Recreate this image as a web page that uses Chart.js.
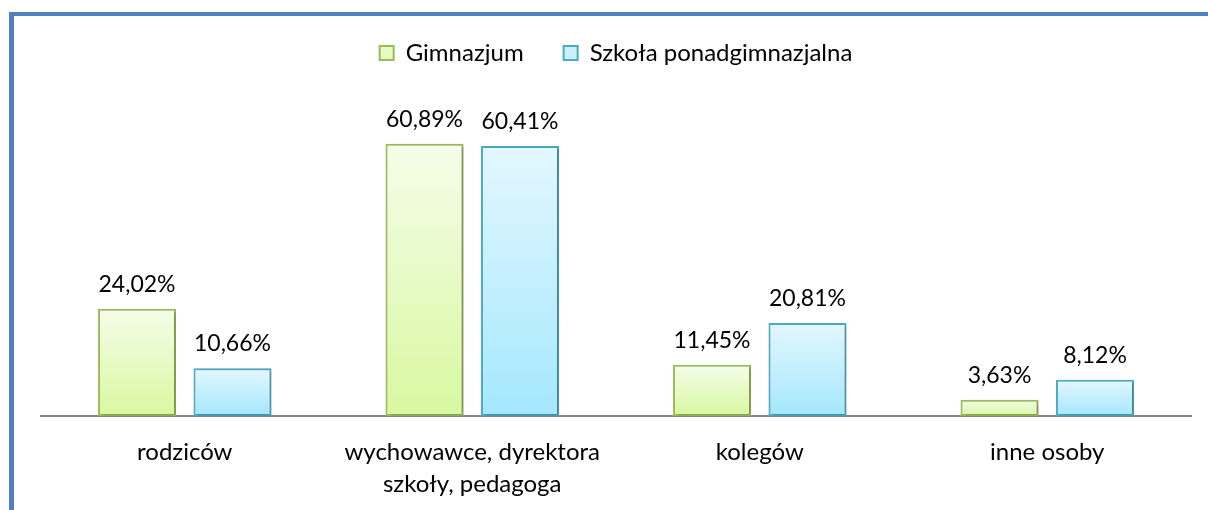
<!DOCTYPE html>
<html>
<head>
<meta charset="utf-8">
<script src="https://cdn.jsdelivr.net/npm/chart.js@4"></script>
<style>
  html, body { margin: 0; padding: 0; background: #fff; }
  #wrap { width: 1208px; height: 510px; }
</style>
</head>
<body>
<div id="wrap"><canvas id="chart" width="1208" height="510"></canvas></div>
<script>
// chart data
const categories = ['rodziców', ['wychowawce, dyrektora', 'szkoły, pedagoga'], 'kolegów', 'inne osoby']
const seriesNames = ['Gimnazjum', 'Szkoła ponadgimnazjalna']
const gimnazjum = [24.02, 60.89, 11.45, 3.63]
const ponadgimnazjalna = [10.66, 60.41, 20.81, 8.12]

const FONT = 'Lato'

//gradient per bar, from top of the bar to the axis
function barGradient(top, bottom) {
    return function(ctx) {
        const chart = ctx.chart
        const y = chart.scales.y
        if (!y || ctx.raw === undefined) return bottom
        const y0 = y.getPixelForValue(ctx.raw)
        const y1 = y.getPixelForValue(0)
        if (!isFinite(y0) || !isFinite(y1) || y0 === y1) return bottom
        const g = chart.ctx.createLinearGradient(0, y0, 0, y1)
        g.addColorStop(0, top)
        g.addColorStop(1, bottom)
        return g
    }
}

//blue frame on the left and top
const framePlugin = {
    id: 'frame',
    beforeDraw(chart) {
        const c = chart.ctx
        c.save()
        c.fillStyle = '#4F81BD'
        c.fillRect(9, 12, 5, chart.height - 12)
        c.fillRect(9, 12, chart.width - 9, 4)
        c.restore()
    }
}

//soft shadow under the bars
const shadowPlugin = {
    id: 'barShadow',
    beforeDatasetDraw(chart) {
        const c = chart.ctx
        c.save()
        c.shadowColor = 'rgba(0,0,0,0.28)'
        c.shadowOffsetX = 2
        c.shadowOffsetY = 1
        c.shadowBlur = 3
    },
    afterDatasetDraw(chart) {
        chart.ctx.restore()
    }
}

//value labels above the bars
const valueLabels = {
    id: 'valueLabels',
    afterDatasetsDraw(chart) {
        const c = chart.ctx
        c.save()
        c.font = '23px ' + FONT
        c.fillStyle = '#000'
        c.textAlign = 'center'
        c.textBaseline = 'alphabetic'
        chart.data.datasets.forEach((ds, i) => {
            chart.getDatasetMeta(i).data.forEach((bar, j) => {
                const txt = ds.data[j].toFixed(2).replace('.', ',') + '%'
                c.fillText(txt, bar.x, bar.y - 17)
            })
        })
        c.restore()
    }
}

new Chart(document.getElementById('chart').getContext('2d'), {
    type: 'bar',
    data: {
        labels: categories,
        datasets: [
            {
                label: seriesNames[0],
                data: gimnazjum,
                backgroundColor: barGradient('#F4FDE9', '#D8F8A0'),
                borderColor: '#9BBB59',
                borderWidth: 2,
                borderSkipped: false,
                categoryPercentage: 0.664,
                barPercentage: 0.817
            },
            {
                label: seriesNames[1],
                data: ponadgimnazjalna,
                backgroundColor: barGradient('#E3F7FE', '#A4E7FD'),
                borderColor: '#4BACC6',
                borderWidth: 2,
                borderSkipped: false,
                categoryPercentage: 0.664,
                barPercentage: 0.817
            }
        ]
    },
    options: {
        responsive: false,
        animation: false,
        layout: { padding: { left: 41, right: 17, top: 1, bottom: 0 } },
        plugins: {
            legend: {
                position: 'top',
                labels: {
                    font: { family: FONT, size: 24 },
                    color: '#000',
                    boxWidth: 14,
                    boxHeight: 14,
                    padding: 40,
                    generateLabels(chart) {
                        return chart.data.datasets.map((ds, i) => ({
                            text: ds.label,
                            fillStyle: i === 0 ? '#E6FAC4' : '#C8F0FD',
                            strokeStyle: ds.borderColor,
                            lineWidth: 2,
                            datasetIndex: i
                        }))
                    }
                }
            },
            tooltip: { enabled: false }
        },
        scales: {
            x: {
                grid: { display: false },
                border: { display: true, color: '#868686', width: 2 },
                ticks: {
                    font: { family: FONT, size: 24, lineHeight: 1.35 },
                    color: '#000',
                    padding: 12,
                    maxRotation: 0,
                    autoSkip: false
                },
                afterFit(s) { s.height = 94 }
            },
            y: {
                display: false,
                min: 0,
                max: 76.3
            }
        }
    },
    plugins: [framePlugin, shadowPlugin, valueLabels]
})
</script>
</body>
</html>
